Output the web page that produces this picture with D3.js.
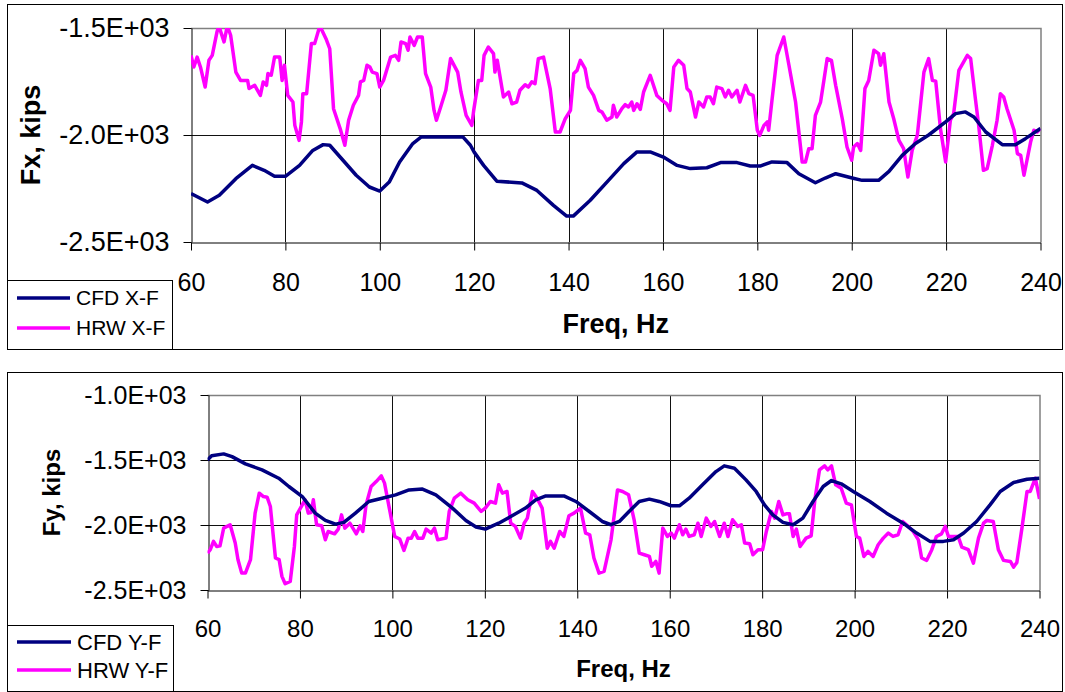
<!DOCTYPE html>
<html>
<head>
<meta charset="utf-8">
<script src="https://cdn.jsdelivr.net/npm/d3@7"></script>
<style>
  html, body { margin: 0; padding: 0; background: #fff; }
  svg { display: block; font-family: "Liberation Sans", Arial, sans-serif; }
</style>
</head>
<body>
<div id="container"></div>
<script>
// ---- data ----
const freqTicks = [60, 80, 100, 120, 140, 160, 180, 200, 220, 240];
const fxTicks = [-2500, -2000, -1500];
const fyTicks = [-2500, -2000, -1500, -1000];

// [freq Hz, force kips]
const cfdX = [[60,-2274],[63.5,-2313],[66,-2282],[69.5,-2204],[73,-2142],[75.5,-2165],[77.7,-2193],[80,-2193],[83,-2142],[85.8,-2072],[88,-2045],[89.4,-2048],[92.2,-2118],[95,-2188],[97.8,-2243],[100,-2262],[102,-2220],[104.2,-2126],[107,-2040],[108.8,-2009],[117.6,-2009],[119.2,-2048],[120,-2080],[122,-2142],[124.8,-2216],[130.1,-2224],[133.3,-2259],[136.8,-2329],[139.6,-2379],[141,-2379],[144.6,-2305],[148.8,-2204],[151.7,-2134],[154.5,-2079],[157.3,-2079],[160.1,-2103],[163,-2142],[165.8,-2157],[169.3,-2153],[172.2,-2129],[175.7,-2129],[178.5,-2145],[180.6,-2145],[183.1,-2126],[186.3,-2129],[188.8,-2181],[192.3,-2223],[194.4,-2201],[196.6,-2181],[200.1,-2201],[202.2,-2212],[205.7,-2212],[207.9,-2170],[210.7,-2095],[213.5,-2040],[216.3,-2000],[219.9,-1939],[222,-1900],[224.1,-1892],[225.9,-1916],[228.4,-1986],[231.9,-2045],[234.7,-2045],[236.8,-2017],[240,-1970]];

const hrwX = [[60,-1628],[60.6,-1682],[61.3,-1636],[62,-1682],[63,-1776],[63.8,-1651],[64.5,-1628],[65.5,-1519],[65.9,-1490],[67,-1565],[67.7,-1490],[68.4,-1534],[69.5,-1706],[70.5,-1745],[72,-1745],[72.3,-1783],[73.5,-1768],[74.7,-1815],[75.3,-1752],[76,-1768],[76.3,-1713],[77,-1721],[77.7,-1636],[78.8,-1636],[79.3,-1745],[79.8,-1674],[80.5,-1815],[81.6,-1846],[82,-1955],[82.9,-2025],[83.4,-1939],[83.7,-1807],[84.5,-1807],[85.5,-1573],[86.2,-1573],[87.3,-1490],[88.6,-1550],[89.4,-1597],[90.2,-1877],[91.6,-1970],[92.6,-2048],[93.4,-1931],[94.4,-1861],[95.5,-1815],[95.9,-1752],[96.6,-1745],[97.3,-1674],[97.9,-1682],[98.4,-1706],[99.4,-1713],[100,-1776],[100.8,-1745],[102.3,-1636],[103.3,-1628],[104,-1651],[104.5,-1565],[105.5,-1573],[106,-1604],[106.4,-1542],[107.3,-1581],[108,-1542],[109,-1542],[109.7,-1713],[110.8,-1776],[111.5,-1885],[112,-1931],[112.9,-1869],[114,-1791],[115,-1643],[116.5,-1706],[117.2,-1799],[118.3,-1908],[119.5,-1955],[119.9,-1885],[120.9,-1745],[121.6,-1745],[122.1,-1628],[123,-1589],[124.1,-1620],[124.4,-1706],[124.9,-1651],[126.2,-1822],[127.3,-1799],[128,-1854],[129,-1846],[129.7,-1791],[130.8,-1765],[131.5,-1776],[132.2,-1752],[132.9,-1760],[133.6,-1643],[134.7,-1636],[136.1,-1783],[137.2,-1986],[138.2,-1986],[139.3,-1924],[140.4,-1885],[141.1,-1713],[141.8,-1698],[142.5,-1651],[143.5,-1690],[144.2,-1776],[145.3,-1815],[146.4,-1885],[147.1,-1893],[148.1,-1931],[149.2,-1916],[149.5,-1861],[150.2,-1916],[151.3,-1877],[152,-1858],[152.7,-1869],[153.4,-1846],[153.8,-1885],[154.5,-1854],[155.2,-1880],[155.9,-1799],[157.3,-1721],[158.7,-1815],[159.8,-1838],[160.8,-1854],[161.5,-1885],[162.3,-1682],[163.3,-1651],[164.4,-1674],[165.1,-1783],[165.8,-1799],[166.9,-1916],[167.6,-1846],[168.6,-1869],[169.3,-1822],[170,-1822],[170.7,-1854],[171.4,-1776],[172.5,-1783],[173.2,-1822],[173.9,-1791],[174.6,-1822],[175.7,-1791],[176.3,-1846],[177.5,-1768],[178.2,-1807],[179.1,-1815],[180,-1978],[180.5,-2002],[181.4,-1955],[182.1,-1939],[182.4,-1978],[183.1,-1838],[184.2,-1628],[185.6,-1542],[186.7,-1674],[188.1,-1846],[189.5,-2126],[190.2,-2126],[190.9,-2064],[191.6,-2064],[192.3,-1908],[193.4,-1846],[194.1,-1745],[194.8,-1643],[195.7,-1651],[196.6,-1768],[198,-1924],[199,-2056],[200,-2118],[200.4,-2056],[201.2,-2040],[201.9,-2072],[202.8,-1783],[203.6,-1745],[204.7,-1604],[205.7,-1620],[206.1,-1674],[206.8,-1620],[207.9,-1846],[208.9,-1924],[210,-2025],[211,-2064],[211.9,-2196],[212.8,-2072],[213.9,-2002],[214.6,-1854],[215.3,-1706],[216.3,-1643],[217.1,-1745],[217.8,-1749],[218.8,-1970],[219.9,-2126],[220.9,-1931],[221.6,-1900],[222.7,-1698],[224.5,-1628],[225.2,-1643],[226.2,-1830],[226.9,-1955],[227.9,-2165],[228.7,-2157],[229.8,-2048],[230.8,-1931],[231.5,-1807],[232.2,-1822],[232.9,-1877],[234.4,-1978],[235.1,-2087],[235.8,-2095],[236.5,-2188],[237.2,-2111],[237.9,-2033],[238.6,-1978],[239.3,-1986],[240,-1970]];

const cfdY = [[60,-1499],[60.9,-1468],[63.5,-1453],[65.3,-1474],[68.2,-1530],[71.8,-1576],[75.4,-1640],[77.6,-1704],[80.5,-1781],[83.3,-1909],[85.5,-1965],[87.7,-1993],[89.5,-1980],[92,-1909],[94.9,-1819],[97.8,-1794],[100.7,-1768],[103.6,-1730],[106.5,-1724],[109.4,-1768],[113,-1870],[115.9,-1965],[118.1,-2016],[120.1,-2032],[123,-1986],[125.9,-1929],[128.8,-1870],[131,-1806],[133.2,-1776],[137.1,-1776],[139.7,-1819],[142.6,-1896],[145.4,-1973],[147.3,-1998],[149.1,-1973],[151.2,-1896],[153.4,-1819],[155.6,-1801],[157.7,-1819],[160.3,-1852],[162.1,-1852],[164.2,-1794],[167.1,-1691],[170,-1589],[171.8,-1545],[174,-1563],[176.5,-1653],[178.7,-1742],[180.5,-1845],[182.3,-1922],[184.5,-1980],[186.7,-1998],[188.8,-1947],[191,-1819],[193.2,-1704],[195,-1658],[197.1,-1683],[199.7,-1742],[203.3,-1819],[206.9,-1909],[210.5,-1986],[213.4,-2062],[216.3,-2126],[219.2,-2126],[221.4,-2114],[223.6,-2062],[226.4,-1973],[229.3,-1845],[231.5,-1742],[234.4,-1673],[237.3,-1648],[240,-1640]];

const hrwY = [[60,-2216],[60.6,-2190],[61.3,-2126],[62,-2165],[62.7,-2160],[63.5,-2024],[64.9,-1998],[66,-2139],[66.6,-2267],[67.4,-2370],[68.2,-2370],[69.3,-2267],[70.3,-1909],[71.2,-1755],[72.1,-1781],[72.9,-1786],[73.6,-1858],[74.7,-2254],[75.5,-2267],[76.1,-2395],[76.8,-2452],[77.9,-2434],[78.8,-2165],[79.3,-1922],[80.5,-1845],[81.1,-1806],[81.8,-1909],[82.4,-1904],[82.9,-1806],[83.6,-1998],[84.7,-2006],[85.5,-2114],[86.1,-2050],[87.5,-2068],[88.3,-2032],[89,-1922],[89.7,-2024],[90.8,-1986],[92.2,-2068],[93,-2006],[93.6,-2050],[94.3,-1845],[95.4,-1704],[96.5,-1666],[97.6,-1622],[98.3,-1678],[99.4,-1883],[100.5,-2088],[101.6,-2108],[102.5,-2196],[103.4,-2101],[104.1,-2101],[104.8,-2050],[105.5,-2101],[106.6,-2101],[107.3,-2032],[108.4,-2062],[109.1,-2024],[109.8,-2114],[111.6,-2101],[112.3,-1896],[113.4,-1794],[114.8,-1755],[116.3,-1806],[117.7,-1832],[119.2,-1896],[120.1,-1870],[121.2,-1819],[122.3,-1832],[123,-1691],[123.8,-1755],[124.8,-1742],[125.6,-1986],[126.6,-2011],[127.7,-2101],[128.5,-1986],[129.2,-1947],[130.3,-1742],[131.3,-1794],[132.4,-1870],[133.5,-2178],[134.2,-2126],[135,-2178],[136.2,-2050],[137.1,-2088],[138.2,-1929],[139.3,-1909],[140.7,-1870],[141.8,-2062],[142.7,-2075],[143.6,-2254],[144.7,-2370],[145.8,-2357],[147.3,-2114],[148.7,-1730],[149.8,-1742],[151.1,-1768],[152.3,-1960],[153.4,-2216],[154.5,-2229],[155.6,-2242],[156.1,-2318],[157,-2280],[157.7,-2370],[158.5,-2024],[159.5,-2088],[160.3,-2062],[161,-2101],[162.1,-1998],[162.8,-2075],[163.5,-2032],[164.2,-2088],[165.3,-2075],[166.1,-1986],[166.8,-2088],[167.9,-1947],[168.9,-2011],[169.7,-1973],[170.8,-2088],[171.8,-1986],[172.6,-2088],[173.6,-1960],[174.7,-2011],[175.5,-1998],[176.2,-2139],[177.3,-2144],[178,-2229],[179.1,-2190],[180.1,-2190],[180.9,-2050],[182,-1896],[182.7,-1947],[183.6,-1819],[184.5,-1922],[185.2,-1914],[185.9,-1914],[186.7,-2088],[187.4,-2032],[188.2,-2165],[189.5,-2101],[190.6,-2083],[191.4,-1806],[192.4,-1576],[193.5,-1545],[194.2,-1576],[195,-1545],[195.9,-1691],[197.1,-1717],[198.2,-1832],[199.3,-1845],[200.4,-2088],[201.1,-2101],[202,-2242],[202.9,-2203],[204,-2242],[205.1,-2152],[206.2,-2101],[207.3,-2062],[208.3,-2088],[209.4,-2075],[210.4,-1973],[211.6,-2011],[212.7,-2050],[213.8,-2114],[214.5,-2254],[215.6,-2272],[216.7,-2190],[217.7,-2088],[218.8,-2068],[219.6,-2011],[220.3,-2088],[221.4,-2088],[222.4,-2088],[223.2,-2170],[224.6,-2190],[225.7,-2293],[226.8,-2101],[227.9,-1986],[228.6,-1965],[230,-1973],[231.1,-2190],[232.2,-2272],[233.7,-2280],[234.4,-2324],[235.1,-2288],[236.2,-2024],[237.3,-1742],[238,-1742],[239.1,-1640],[240,-1800]];

const CFD_COLOR = '#000080';
const HRW_COLOR = '#ff00ff';
const width = 1065;
const height = 692;

const svg = d3.select('#container').append('svg')
    .attr('width', width)
    .attr('height', height);

// Excel-style scientific label, e.g. -1.5E+03
function sci(v) {
    const e = Math.floor(Math.log10(Math.abs(v)));
    const m = v / Math.pow(10, e);
    return m.toFixed(1) + 'E+' + String(e).padStart(2, '0');
}

function drawPanel(p) {
    const g = svg.append('g');

    // outer chart border
    g.append('rect')
        .attr('x', p.box[0]).attr('y', p.box[1])
        .attr('width', p.box[2]).attr('height', p.box[3])
        .attr('fill', '#fff').attr('stroke', '#000').attr('stroke-width', 1);

    const x = d3.scaleLinear().domain([60, 240]).range([p.x0, p.x1]);
    const y = d3.scaleLinear().domain(p.yDomain).range([p.y1, p.y0]);

    // gridlines
    g.append('g').selectAll('line')
        .data(freqTicks.slice(1, -1))
        .join('line')
        .attr('x1', d => Math.round(x(d)) + 0.5).attr('x2', d => Math.round(x(d)) + 0.5)
        .attr('y1', p.y0).attr('y2', p.y1)
        .attr('stroke', '#111');
    g.append('g').selectAll('line')
        .data(p.yTicks.slice(1, -1))
        .join('line')
        .attr('x1', p.x0).attr('x2', p.x1)
        .attr('y1', d => Math.round(y(d)) + 0.5).attr('y2', d => Math.round(y(d)) + 0.5)
        .attr('stroke', '#111');

    // plot area border (top / right, grey)
    g.append('path')
        .attr('d', `M${p.x0},${p.y0 + 0.5}H${p.x1 + 0.5}V${p.y1}`)
        .attr('fill', 'none').attr('stroke', '#808080').attr('stroke-width', 1.5);

    // axes
    const yAxis = d3.axisLeft(y)
        .tickValues(p.yTicks)
        .tickFormat(sci)
        .tickSize(8)
        .tickSizeOuter(0)
        .tickPadding(14);
    const xAxis = d3.axisBottom(x)
        .tickValues(freqTicks)
        .tickFormat(d3.format('d'))
        .tickSize(8)
        .tickSizeOuter(0)
        .tickPadding(p.xPad);

    const ya = g.append('g').attr('transform', `translate(${Math.round(p.x0) + 0.5},0)`).call(yAxis);
    ya.attr('font-family', null).attr('font-size', null);
    ya.selectAll('text').attr('font-size', p.yFont).attr('fill', '#000');
    const xa = g.append('g').attr('transform', `translate(0,${Math.round(p.y1) + 0.5})`).call(xAxis);
    xa.attr('font-family', null).attr('font-size', null);
    xa.selectAll('text').attr('font-size', p.xFont).attr('fill', '#000');
    g.selectAll('.domain, .tick line').attr('stroke', '#000');

    // series
    const clipId = 'clip' + p.id;
    g.append('clipPath').attr('id', clipId)
        .append('rect')
        .attr('x', p.x0).attr('y', p.y0)
        .attr('width', p.x1 - p.x0).attr('height', p.y1 - p.y0);

    const line = d3.line().x(d => x(d[0])).y(d => y(d[1]));
    const series = [
        { values: p.cfd, color: CFD_COLOR, name: p.names[0] },
        { values: p.hrw, color: HRW_COLOR, name: p.names[1] }
    ];
    g.append('g').attr('clip-path', `url(#${clipId})`)
        .selectAll('path')
        .data(series.slice().reverse())
        .join('path')
        .attr('d', d => line(d.values))
        .attr('fill', 'none')
        .attr('stroke', d => d.color)
        .attr('stroke-width', 3.5)
        .attr('stroke-linejoin', 'round');

    // axis titles
    g.append('text')
        .attr('transform', `translate(${p.yTitleX},${(p.y0 + p.y1) / 2}) rotate(-90)`)
        .attr('text-anchor', 'middle')
        .attr('dy', '0.35em')
        .attr('font-size', p.titleFont)
        .attr('font-weight', 'bold')
        .text(p.yTitle);
    g.append('text')
        .attr('x', (p.x0 + p.x1) / 2)
        .attr('y', p.xTitleY)
        .attr('text-anchor', 'middle')
        .attr('font-size', p.titleFont)
        .attr('font-weight', 'bold')
        .text('Freq, Hz');

    // legend
    const lg = g.append('g');
    lg.append('rect')
        .attr('x', p.legend.x).attr('y', p.legend.y)
        .attr('width', p.legend.w).attr('height', p.legend.h)
        .attr('fill', '#fff').attr('stroke', '#000');
    const item = lg.selectAll('g.item')
        .data(series)
        .join('g')
        .attr('class', 'item')
        .attr('transform', (d, i) => `translate(0,${p.legend.rows[i]})`);
    item.append('line')
        .attr('x1', p.legend.lx0).attr('x2', p.legend.lx1)
        .attr('stroke', d => d.color).attr('stroke-width', 3.5);
    item.append('text')
        .attr('x', p.legend.tx)
        .attr('dy', '0.35em')
        .attr('font-size', p.legend.font)
        .text(d => d.name);
}

drawPanel({
    id: 'x',
    box: [7.5, 4.5, 1055, 345],
    x0: 191, x1: 1040.5, y0: 28, y1: 242,
    yDomain: [-2500, -1500], yTicks: fxTicks,
    yFont: 27, xFont: 25, xPad: 23, titleFont: 27,
    yTitle: 'Fx, kips', yTitleX: 31, xTitleY: 333,
    cfd: cfdX, hrw: hrwX, names: ['CFD X-F', 'HRW X-F'],
    legend: { x: 7.5, y: 280.5, w: 165, h: 69, rows: [298, 328], lx0: 17, lx1: 70, tx: 76, font: 21 }
});

drawPanel({
    id: 'y',
    box: [7.5, 372.5, 1055, 319],
    x0: 207.5, x1: 1039.5, y0: 395, y1: 590,
    yDomain: [-2500, -1000], yTicks: fyTicks,
    yFont: 25, xFont: 24, xPad: 21, titleFont: 24,
    yTitle: 'Fy, kips', yTitleX: 52, xTitleY: 677,
    cfd: cfdY, hrw: hrwY, names: ['CFD Y-F', 'HRW Y-F'],
    legend: { x: 7.5, y: 625.5, w: 166, h: 66, rows: [642, 670], lx0: 17, lx1: 71, tx: 77, font: 22 }
});
</script>
</body>
</html>
